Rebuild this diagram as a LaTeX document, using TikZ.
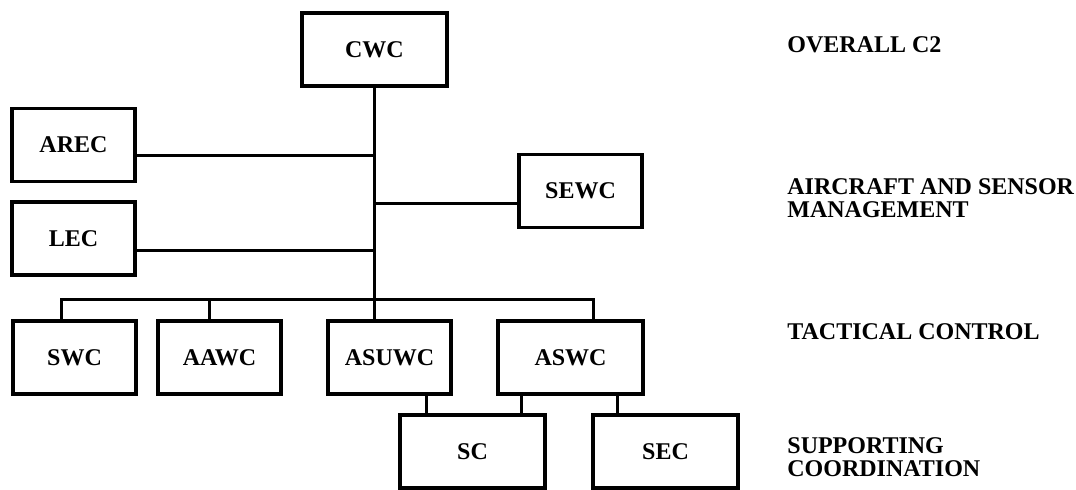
\documentclass[tikz,border=0pt]{standalone}
\usepackage{fontspec}
\setmainfont{Liberation Serif}
\usetikzlibrary{positioning}

\begin{document}
\begin{tikzpicture}[x=0.5pt, y=-0.5pt,
  every node/.style={font=\fontsize{12}{11.5}\selectfont\bfseries},
  box/.style={draw, line width=1.7pt, outer sep=0pt, inner sep=0pt,
              minimum width=61.5pt, minimum height=36.5pt},
  wbox/.style={box, minimum width=72.5pt},
  ln/.style={line width=1.5pt},
  lvl/.style={anchor=west, align=left, inner sep=0pt}
]
  \fill[white] (0,0) rectangle (1076,489);
  \useasboundingbox (0,0) rectangle (1076,489);
  % command and staff
  \node[wbox] (cwc)  at (374.5,49.5) {CWC};
  \node[box]  (arec) at (73.5,145)   {AREC};
  \node[box]  (lec)  at (73.5,238.5) {LEC};
  \node[box]  (sewc) at (580.5,191)  {SEWC};
  % tactical row
  \node[box] (swc) at (74.5,357.5) {SWC};
  \node[box,  right=11pt of swc]     (aawc)  {AAWC};
  \node[box,  right=23.5pt of aawc]  (asuwc) {ASUWC};
  \node[wbox, right=23.5pt of asuwc] (aswc)  {ASWC};
  % supporting
  \node[wbox] (sc) at (472.5,451.5) {SC};
  \node[wbox, right=24pt of sc] (sec) {SEC};
  \coordinate (bus) at (376,299);

  \draw[ln] (cwc.south) -- (cwc.south |- asuwc.north);
  \draw[ln] ([yshift=-5pt]arec.east) -- ([yshift=-5pt]arec.east -| cwc.south);
  \draw[ln] ([yshift=-5.75pt]lec.east) -- ([yshift=-5.75pt]lec.east -| cwc.south);
  \draw[ln] ([yshift=-6pt]sewc.west) -- ([yshift=-6pt]sewc.west -| cwc.south);
  \draw[ln] ([xshift=-6.75pt]swc.north) |- (bus) -| ([xshift=11.25pt]aswc.north);
  \draw[ln] ([xshift=-5.25pt]aawc.north) -- ([xshift=-5.25pt]aawc.north |- bus);
  \draw[ln] ([xshift=18.25pt]asuwc.south) -- ([xshift=18.25pt]asuwc.south |- sc.north);
  \draw[ln] ([xshift=-24.75pt]aswc.south) -- ([xshift=-24.75pt]aswc.south |- sc.north);
  \draw[ln] ([xshift=23.25pt]aswc.south) -- ([xshift=23.25pt]aswc.south |- sec.north);

  % levels
  \node[lvl] (l1) at (787,45)  {OVERALL C2};
  \node[lvl] (l2) at (787,198) {AIRCRAFT AND SENSOR\\MANAGEMENT};
  \node[lvl] (l3) at (787,332) {TACTICAL CONTROL};
  \node[lvl] (l4) at (787,457) {SUPPORTING\\COORDINATION};
\end{tikzpicture}
\end{document}
